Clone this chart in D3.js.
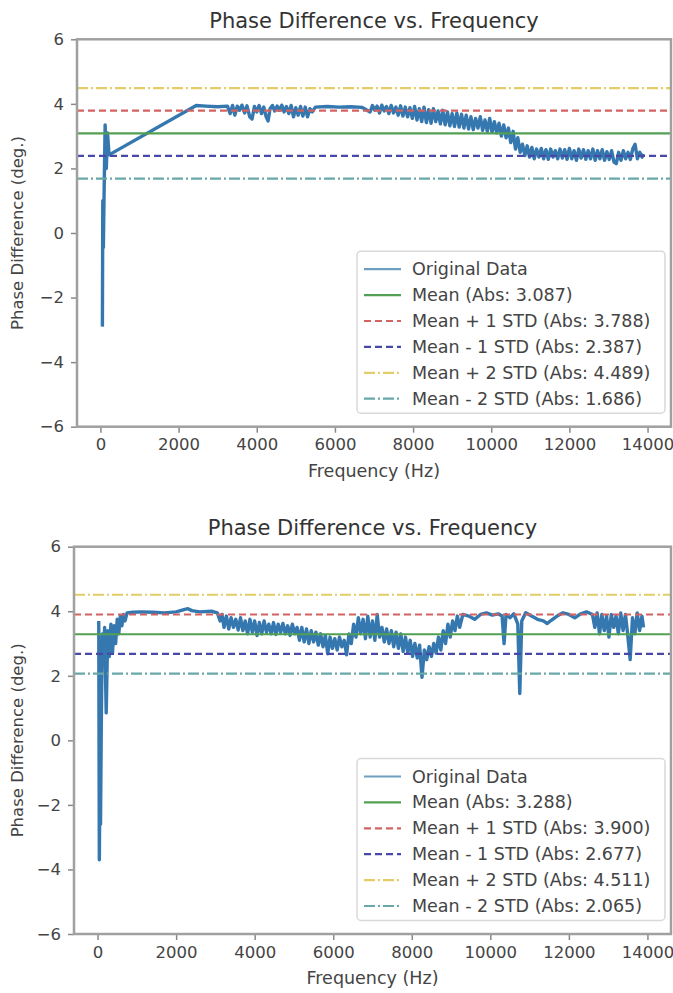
<!DOCTYPE html>
<html>
<head>
<meta charset="utf-8">
<script src="https://cdn.jsdelivr.net/npm/d3@7"></script>
<style>
  body { margin: 0; background: #fff; }
  svg { display: block; font-family: 'DejaVu Sans', sans-serif; }
</style>
</head>
<body>
<div id="chart"></div>
<script>
const xTicks = [0, 2000, 4000, 6000, 8000, 10000, 12000, 14000]
const yTicks = [-6, -4, -2, 0, 2, 4, 6]
const seriesNames = ['Original Data', 'Mean', 'Mean + 1 STD', 'Mean - 1 STD', 'Mean + 2 STD', 'Mean - 2 STD']

// mean, +1 std, -1 std, +2 std, -2 std
const topStats = [3.087, 3.788, 2.387, 4.489, 1.686]
const bottomStats = [3.288, 3.900, 2.677, 4.511, 2.065]

// [frequency Hz, phase difference deg.]
const topPhase = [
  [50, -2.9], [60, 1.0], [75, -0.45], [90, 0.95], [120, 3.35], [150, 2.0], [180, 3.1], [220, 2.42],
  [2450, 3.95], [2700, 3.93], [3000, 3.91], [3250, 3.93],
  [3320, 3.7], [3380, 3.95], [3440, 3.65], [3500, 3.93], [3560, 3.8], [3620, 3.96], [3690, 3.72], [3750, 3.94],
  [3820, 3.6], [3880, 3.53], [3940, 3.92], [4000, 3.75], [4060, 3.95], [4120, 3.7], [4180, 3.9], [4240, 3.6],
  [4290, 3.47], [4340, 3.85], [4400, 3.95], [4460, 3.78], [4520, 3.93], [4580, 3.8], [4640, 3.96], [4700, 3.75],
  [4760, 3.92], [4820, 3.7], [4880, 3.95], [4940, 3.6], [5000, 3.88], [5060, 3.65], [5120, 3.92], [5180, 3.62],
  [5240, 3.9], [5300, 3.6], [5360, 3.85], [5420, 3.75],
  [5500, 3.9], [5800, 3.92], [6100, 3.9], [6400, 3.91], [6700, 3.89],
  [6900, 3.75], [6960, 3.95], [7020, 3.8], [7080, 3.93], [7140, 3.72], [7200, 3.96], [7260, 3.78], [7320, 3.92],
  [7380, 3.7], [7440, 3.95], [7500, 3.72], [7560, 3.9], [7620, 3.65], [7680, 3.94], [7740, 3.62], [7800, 3.9],
  [7860, 3.6], [7920, 3.88], [7980, 3.55], [8040, 3.92], [8100, 3.5], [8160, 3.85], [8220, 3.45], [8280, 3.9],
  [8340, 3.42], [8400, 3.82], [8460, 3.4], [8520, 3.85], [8580, 3.45], [8640, 3.78], [8700, 3.38], [8760, 3.8],
  [8820, 3.35], [8880, 3.75], [8940, 3.32], [9000, 3.7], [9060, 3.3], [9120, 3.72], [9180, 3.28],
  [9240, 3.68], [9300, 3.25], [9360, 3.65], [9420, 3.22], [9480, 3.6], [9540, 3.2], [9600, 3.55], [9660, 3.25],
  [9720, 3.6], [9780, 3.18], [9840, 3.5], [9900, 3.15], [9960, 3.55], [10020, 3.12], [10080, 3.45], [10140, 3.1],
  [10200, 3.4], [10260, 3.0], [10320, 3.35], [10380, 2.95], [10440, 3.25],
  [10500, 2.8], [10560, 3.15], [10620, 2.6], [10680, 2.95], [10740, 2.5], [10800, 2.75], [10860, 2.4],
  [10920, 2.7], [10980, 2.35], [11040, 2.65], [11100, 2.3], [11160, 2.6], [11220, 2.35], [11280, 2.62], [11340, 2.3],
  [11400, 2.58], [11460, 2.28], [11520, 2.6], [11580, 2.35], [11640, 2.55], [11700, 2.3], [11760, 2.6], [11820, 2.32],
  [11880, 2.58], [11940, 2.28], [12000, 2.62], [12060, 2.3], [12120, 2.55], [12180, 2.25], [12240, 2.6], [12300, 2.32],
  [12360, 2.58], [12420, 2.28], [12480, 2.55], [12540, 2.3], [12600, 2.6], [12660, 2.25], [12720, 2.55], [12780, 2.3],
  [12840, 2.58], [12900, 2.25], [12960, 2.52], [13020, 2.28], [13080, 2.55], [13140, 2.2], [13200, 2.15], [13260, 2.5],
  [13320, 2.25], [13380, 2.55], [13440, 2.3], [13500, 2.5], [13560, 2.28], [13620, 2.6], [13680, 2.75], [13740, 2.3],
  [13800, 2.5], [13860, 2.35], [13900, 2.45]
]

const bottomPhase = [
  [30, 3.7], [45, -3.7], [60, -1.0], [75, -2.6], [95, 0.5], [120, 3.3], [150, 2.7], [180, 3.5], [220, 0.85],
  [260, 3.4], [300, 2.6], [340, 3.6], [380, 2.7], [420, 3.55], [460, 3.0], [500, 3.75], [540, 3.3], [580, 3.85],
  [620, 3.55], [660, 3.9], [700, 3.7], [750, 3.95],
  [900, 3.97], [1100, 3.98], [1400, 3.97], [1700, 3.95], [2000, 3.98], [2200, 4.05], [2300, 4.08], [2400, 4.02],
  [2600, 3.98], [2900, 4.0], [3050, 3.95],
  [3120, 3.7], [3170, 3.9], [3220, 3.5], [3280, 3.85], [3340, 3.45], [3400, 3.8], [3460, 3.5], [3520, 3.75],
  [3580, 3.42], [3640, 3.8], [3700, 3.4], [3760, 3.7], [3820, 3.3], [3880, 3.75], [3940, 3.35], [4000, 3.7],
  [4060, 3.25], [4120, 3.65], [4180, 3.3], [4240, 3.7], [4300, 3.35], [4360, 3.6], [4420, 3.3], [4480, 3.65],
  [4540, 3.28], [4600, 3.6], [4660, 3.35], [4720, 3.62], [4780, 3.3], [4840, 3.55], [4900, 3.25], [4960, 3.6],
  [5020, 3.3], [5080, 3.5], [5140, 3.1], [5200, 3.5], [5260, 3.05], [5320, 3.45], [5380, 3.0], [5440, 3.4],
  [5500, 3.05], [5560, 3.35], [5620, 2.95], [5680, 3.3], [5740, 2.9], [5800, 3.25], [5860, 2.68], [5920, 3.2],
  [5980, 2.85], [6040, 3.15], [6100, 2.8], [6160, 3.2], [6220, 2.9], [6280, 3.1], [6340, 2.65], [6400, 3.3],
  [6460, 3.0], [6520, 3.6], [6580, 3.2], [6640, 3.8], [6700, 3.3], [6760, 3.75], [6820, 3.15], [6880, 3.85],
  [6940, 3.2], [7000, 3.7], [7060, 3.1], [7120, 3.9], [7180, 3.2],
  [7240, 3.5], [7300, 3.05], [7360, 3.45], [7420, 3.0], [7480, 3.4], [7540, 2.9], [7600, 3.35], [7660, 2.85],
  [7720, 3.3], [7780, 2.75], [7840, 3.2], [7900, 2.7], [7960, 3.1], [8020, 2.6], [8080, 3.0], [8140, 2.55],
  [8200, 2.95], [8260, 1.95], [8320, 2.8], [8380, 2.5],
  [8440, 2.9], [8500, 2.6], [8560, 3.0], [8620, 2.7], [8680, 3.2], [8740, 2.8], [8800, 3.4], [8860, 3.0],
  [8920, 3.6], [8980, 3.2], [9040, 3.7], [9100, 3.4], [9160, 3.85], [9220, 3.5],
  [9300, 3.9], [9450, 3.85], [9600, 3.75], [9750, 3.9], [9900, 3.95], [10050, 3.88], [10200, 3.92], [10300, 3.85],
  [10350, 3.0], [10400, 3.9], [10500, 3.8], [10600, 3.92], [10700, 3.6], [10750, 1.45], [10800, 3.7], [10900, 3.95],
  [11050, 3.85], [11200, 3.75], [11350, 3.7], [11450, 3.62], [11550, 3.72], [11700, 3.85], [11850, 3.95], [12000, 3.9],
  [12150, 3.8], [12300, 3.92], [12450, 3.98], [12600, 3.9],
  [12660, 3.5], [12720, 3.95], [12780, 3.3], [12840, 3.9], [12900, 3.4], [12960, 3.85], [13020, 3.2], [13080, 3.9],
  [13140, 3.5], [13200, 3.85], [13260, 3.3], [13320, 3.95], [13380, 3.4], [13440, 3.9], [13500, 3.25], [13560, 2.5],
  [13620, 3.8], [13680, 3.3], [13740, 3.95], [13800, 3.4], [13860, 3.85], [13900, 3.5]
]

const WIDTH = 673
const HEIGHT = 993
const X_DOMAIN = [-600, 14600]
const Y_DOMAIN = [-6, 6]

// styles for data line, mean, +1, -1, +2, -2
const STYLES = [
  { color: '#1f68a6', dash: null, width: 3.4, opacity: 0.9 },
  { color: '#52a052', dash: null, width: 2.2, opacity: 1 },
  { color: '#d46262', dash: '7,4', width: 2.2, opacity: 1 },
  { color: '#4848a8', dash: '7,4', width: 2.2, opacity: 1 },
  { color: '#e2cd68', dash: '11,3,2,3', width: 2.2, opacity: 1 },
  { color: '#68a8a8', dash: '11,3,2,3', width: 2.2, opacity: 1 }
]

const PANELS = [
  { data: topPhase, stats: topStats, left: 77, right: 671, top: 39.3, bottom: 426.7 },
  { data: bottomPhase, stats: bottomStats, left: 74, right: 671, top: 546.7, bottom: 934 }
]

const svg = d3.select('#chart')
  .append('svg')
  .attr('width', WIDTH)
  .attr('height', HEIGHT)

function drawPanel(p) {
  const g = svg.append('g')

  const x = d3.scaleLinear().domain(X_DOMAIN).range([p.left, p.right])
  const y = d3.scaleLinear().domain(Y_DOMAIN).range([p.bottom, p.top])

  // data line
  const line = d3.line().x(d => x(d[0])).y(d => y(d[1]))
  g.append('path')
    .datum(p.data)
    .attr('d', line)
    .attr('fill', 'none')
    .attr('stroke', STYLES[0].color)
    .attr('stroke-width', STYLES[0].width)
    .attr('stroke-opacity', STYLES[0].opacity)
    .attr('stroke-linejoin', 'round')

  // horizontal stat lines
  p.stats.forEach((v, i) => {
    const s = STYLES[i + 1]
    g.append('line')
      .attr('x1', p.left).attr('x2', p.right)
      .attr('y1', y(v)).attr('y2', y(v))
      .attr('stroke', s.color)
      .attr('stroke-width', s.width)
      .attr('stroke-dasharray', s.dash)
  })

  // axes
  const xAxis = g.append('g')
    .attr('transform', `translate(0, ${p.bottom})`)
    .call(d3.axisBottom(x).tickValues(xTicks).tickSize(6).tickPadding(6).tickFormat(d3.format('d')))
  const yAxis = g.append('g')
    .attr('transform', `translate(${p.left}, 0)`)
    .call(d3.axisLeft(y).tickValues(yTicks).tickSize(6).tickPadding(7).tickFormat(d => d < 0 ? '\u2212' + Math.abs(d) : d))

  ;[xAxis, yAxis].forEach(a => {
    a.select('.domain').remove()
    a.selectAll('.tick line').attr('stroke', '#888').attr('stroke-width', 1.5)
    a.selectAll('.tick text').attr('fill', '#444').attr('font-size', 16.5).attr('font-family', 'DejaVu Sans')
  })

  // frame
  g.append('rect')
    .attr('x', p.left).attr('y', p.top)
    .attr('width', p.right - p.left).attr('height', p.bottom - p.top)
    .attr('fill', 'none')
    .attr('stroke', '#a0a0a0')
    .attr('stroke-width', 2.5)

  // title + labels
  g.append('text')
    .attr('x', (p.left + p.right) / 2)
    .attr('y', p.top - 11.5)
    .attr('text-anchor', 'middle')
    .attr('font-size', 21)
    .attr('fill', '#333')
    .text('Phase Difference vs. Frequency')

  g.append('text')
    .attr('x', (p.left + p.right) / 2)
    .attr('y', p.bottom + 50)
    .attr('text-anchor', 'middle')
    .attr('font-size', 17.5)
    .attr('fill', '#444')
    .text('Frequency (Hz)')

  g.append('text')
    .attr('transform', `translate(23, ${(p.top + p.bottom) / 2}) rotate(-90)`)
    .attr('text-anchor', 'middle')
    .attr('font-size', 16.5)
    .attr('fill', '#444')
    .text('Phase Difference (deg.)')

  // legend, lower right
  const lw = 308, lh = 162
  const lx = p.right - 6 - lw
  const ly = p.bottom - 13.5 - lh
  const legend = g.append('g').attr('transform', `translate(${lx}, ${ly})`)
  legend.append('rect')
    .attr('width', lw).attr('height', lh)
    .attr('rx', 4)
    .attr('fill', '#fff').attr('fill-opacity', 0.85)
    .attr('stroke', '#d9d9d9').attr('stroke-width', 1.5)

  const labels = seriesNames.map((n, i) => i === 0 ? n : `${n} (Abs: ${p.stats[i - 1].toFixed(3)})`)
  labels.forEach((label, i) => {
    const s = STYLES[i]
    const ry = 18 + i * 25.9
    legend.append('line')
      .attr('x1', 7).attr('x2', 44)
      .attr('y1', ry).attr('y2', ry)
      .attr('stroke', i === 0 ? '#6f9fc0' : s.color)
      .attr('stroke-width', 2.2)
      .attr('stroke-dasharray', s.dash)
    legend.append('text')
      .attr('x', 55)
      .attr('y', ry + 6)
      .attr('font-size', 17.5)
      .attr('fill', '#444')
      .text(label)
  })
}

PANELS.forEach(drawPanel)
</script>
</body>
</html>
